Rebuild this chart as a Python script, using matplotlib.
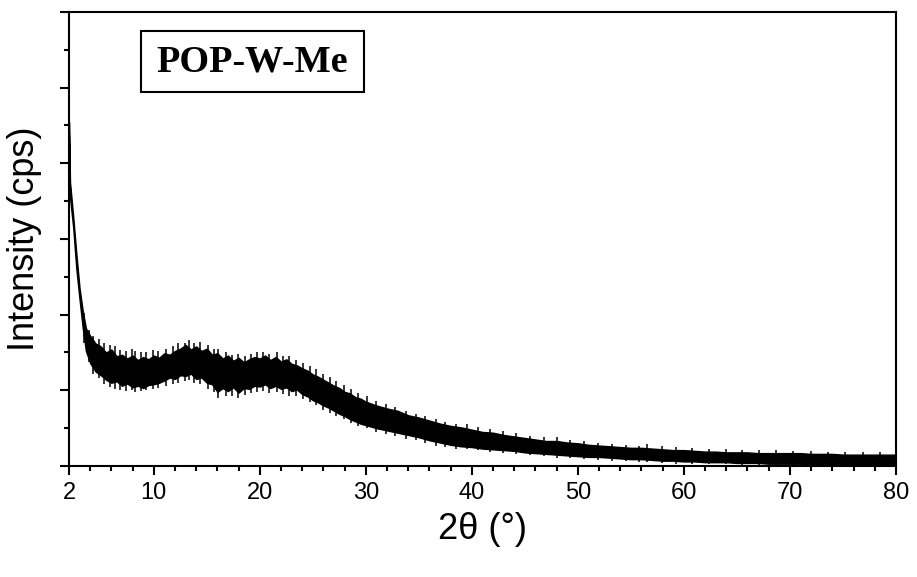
import matplotlib
matplotlib.use("Agg")
import matplotlib.pyplot as plt
from matplotlib.patches import Rectangle
from matplotlib.ticker import MultipleLocator, FixedLocator

# XRD trace of POP-W-Me read as upper / lower envelope of the noisy band
# (2theta in degrees, intensity in arbitrary units)
band_x = [2.0, 2.1, 2.4, 2.7, 3.0, 3.3, 3.6,
          4.0, 4.5, 5.0, 5.5, 6.0, 6.5, 7.0, 7.5, 8.0, 8.5, 9.0, 9.5,
          10.0, 10.5, 11.0, 11.5, 12.0, 12.5, 13.0, 13.5, 14.0, 14.5, 15.0, 15.5,
          16.0, 16.5, 17.0, 17.5, 18.0, 18.5, 19.0, 19.5, 20.0, 20.5, 21.0, 21.5,
          22.0, 22.5, 23.0, 23.5, 24.0, 24.5, 25.0, 25.5, 26.0, 26.5, 27.0, 27.5,
          28.0, 28.5, 29.0, 29.5, 30.0,
          31, 32, 33, 34, 35, 36, 37, 38, 39, 40, 41, 42, 43, 44, 45, 46, 47, 48,
          49, 50, 51, 52, 53, 54, 55, 56, 57, 58, 59, 60, 61, 62, 63, 64, 65, 66,
          67, 68, 69, 70, 71, 72, 73, 74, 75, 76, 77, 78, 79, 80]
band_hi = [4.55, 3.75, 3.30, 2.80, 2.35, 2.05, 1.82,
           1.72, 1.62, 1.58, 1.50, 1.54, 1.45, 1.47, 1.42, 1.46, 1.40, 1.44, 1.41,
           1.46, 1.43, 1.49, 1.47, 1.52, 1.55, 1.60, 1.54, 1.58, 1.52, 1.55, 1.47,
           1.49, 1.42, 1.46, 1.39, 1.43, 1.37, 1.41, 1.44, 1.42, 1.46, 1.40, 1.44,
           1.38, 1.41, 1.35, 1.33, 1.29, 1.26, 1.21, 1.18, 1.14, 1.10, 1.06, 1.03,
           0.98, 0.96, 0.91, 0.89, 0.85,
           0.80, 0.76, 0.73, 0.67, 0.64, 0.60, 0.56, 0.53, 0.51, 0.48, 0.45, 0.44,
           0.41, 0.39, 0.37, 0.35, 0.33, 0.33, 0.31, 0.30, 0.28, 0.27, 0.26, 0.25,
           0.24, 0.24, 0.23, 0.22, 0.21, 0.21, 0.20, 0.19, 0.19, 0.18, 0.18, 0.18,
           0.17, 0.17, 0.17, 0.17, 0.17, 0.16, 0.16, 0.16, 0.15, 0.15, 0.15, 0.15,
           0.15, 0.15]
band_lo = [4.45, 3.55, 3.15, 2.60, 2.20, 1.82, 1.52,
           1.36, 1.25, 1.20, 1.14, 1.10, 1.12, 1.06, 1.09, 1.04, 1.06, 1.03, 1.07,
           1.08, 1.10, 1.13, 1.17, 1.15, 1.20, 1.19, 1.22, 1.15, 1.17, 1.10, 1.08,
           0.98, 1.03, 0.99, 1.04, 0.97, 1.03, 1.02, 1.06, 1.05, 1.08, 1.03, 1.06,
           1.02, 1.04, 0.99, 1.01, 0.95, 0.92, 0.87, 0.84, 0.80, 0.77, 0.73, 0.69,
           0.66, 0.62, 0.59, 0.56, 0.54,
           0.50, 0.47, 0.44, 0.41, 0.38, 0.34, 0.31, 0.28, 0.26, 0.25, 0.23, 0.22,
           0.21, 0.20, 0.18, 0.17, 0.16, 0.15, 0.14, 0.13, 0.12, 0.12, 0.11, 0.10,
           0.09, 0.09, 0.08, 0.07, 0.07, 0.06, 0.06, 0.05, 0.05, 0.05, 0.04, 0.04,
           0.04, 0.03, 0.03, 0.03, 0.03, 0.02, 0.02, 0.02, 0.02, 0.02, 0.01, 0.01,
           0.01, 0.01]

# single counts that stick out of the band
spike_x = [3.4, 3.9, 4.3, 4.8, 5.3, 5.9, 6.3, 6.8, 7.4, 7.9, 8.2, 8.8, 9.3, 9.9,
           10.4, 11.2, 11.8, 12.3, 12.9, 13.3, 13.8, 14.4, 15.1, 15.7, 16.1, 16.8,
           17.4, 17.9, 18.6, 19.2, 19.7, 20.3, 20.9, 21.6, 22.2, 22.8, 23.4, 24.1,
           24.7, 25.3, 26.0, 26.6, 27.2, 27.9, 28.6, 29.3, 30.1, 31.0, 31.9, 32.8,
           33.8, 34.7, 35.6, 36.6, 37.5, 38.5, 39.5, 40.6, 41.7, 42.9, 44.2, 45.5,
           46.8, 48.0, 49.3, 50.6, 51.9, 53.2, 54.5, 55.8, 56.5, 57.9, 59.3, 60.8,
           62.4, 64.0, 65.5, 67.1, 68.7, 70.3, 72.0, 73.6, 75.2, 76.9, 78.5]
spike_hi = [2.02, 1.80, 1.72, 1.68, 1.62, 1.60, 1.58, 1.53, 1.52, 1.54, 1.52, 1.50,
            1.51, 1.53, 1.52, 1.55, 1.58, 1.62, 1.63, 1.66, 1.62, 1.64, 1.60, 1.55,
            1.54, 1.51, 1.47, 1.48, 1.45, 1.48, 1.50, 1.51, 1.48, 1.50, 1.46, 1.45,
            1.40, 1.36, 1.32, 1.28, 1.22, 1.17, 1.12, 1.07, 1.02, 0.97, 0.92, 0.86,
            0.82, 0.78, 0.73, 0.69, 0.66, 0.62, 0.58, 0.55, 0.56, 0.51, 0.49, 0.46,
            0.43, 0.40, 0.38, 0.38, 0.35, 0.33, 0.31, 0.29, 0.28, 0.27, 0.29, 0.26,
            0.25, 0.24, 0.23, 0.22, 0.21, 0.21, 0.21, 0.20, 0.20, 0.19, 0.19, 0.19,
            0.19]
spike_lo = [1.62, 1.38, 1.22, 1.16, 1.08, 1.04, 1.02, 1.01, 0.99, 1.00, 0.98, 0.99,
            1.00, 1.02, 1.03, 1.06, 1.08, 1.10, 1.12, 1.14, 1.10, 1.08, 1.02, 0.98,
            0.90, 0.92, 0.92, 0.90, 0.94, 0.96, 0.98, 0.99, 0.96, 0.98, 0.95, 0.93,
            0.92, 0.88, 0.85, 0.80, 0.74, 0.70, 0.66, 0.62, 0.57, 0.53, 0.50, 0.45,
            0.42, 0.40, 0.36, 0.34, 0.30, 0.27, 0.25, 0.23, 0.22, 0.21, 0.19, 0.17,
            0.16, 0.14, 0.13, 0.11, 0.10, 0.09, 0.08, 0.07, 0.06, 0.05, 0.05, 0.04,
            0.03, 0.03, 0.02, 0.02, 0.00, 0.01, 0.00, 0.00, 0.01, 0.00, 0.00, 0.00,
            0.00]

x_ticks = [2, 10, 20, 30, 40, 50, 60, 70, 80]

fig = plt.figure(figsize=(9.17, 5.77), dpi=100)
ax = fig.add_axes([0.0752, 0.1924, 0.9018, 0.7868])

ax.fill_between(band_x, band_lo, band_hi, color="black", lw=1.0)
ax.vlines(spike_x, spike_lo, spike_hi, color="black", lw=1.1)

ax.set_xlim(2, 80)
ax.set_ylim(0, 6)
ax.xaxis.set_major_locator(FixedLocator(x_ticks))
ax.xaxis.set_minor_locator(MultipleLocator(2))
ax.yaxis.set_major_locator(MultipleLocator(1))
ax.yaxis.set_minor_locator(MultipleLocator(0.5))
ax.set_yticklabels([])

for s in ax.spines.values():
    s.set_linewidth(1.5)
ax.tick_params(which="major", direction="out", length=6.5, width=1.5,
               labelsize=17, pad=5)
ax.tick_params(which="minor", direction="out", length=3.5, width=1.5)
for lab in ax.get_xticklabels():
    lab.set_family("Liberation Sans")

ax.set_xlabel("2θ (°)", fontsize=26, family="Liberation Sans", labelpad=6)
ax.set_ylabel("Intensity (cps)", fontsize=26, family="Liberation Sans", labelpad=8)

ax.add_patch(Rectangle((0.0871, 0.8238), 0.2697, 0.1344, transform=ax.transAxes,
                       fill=False, lw=1.5, ec="black", zorder=5))
ax.text(0.222, 0.889, "POP-W-Me", transform=ax.transAxes, ha="center", va="center",
        fontsize=27.5, fontweight="bold", family="Liberation Serif", zorder=6)

fig.savefig("out.png", dpi=100)
